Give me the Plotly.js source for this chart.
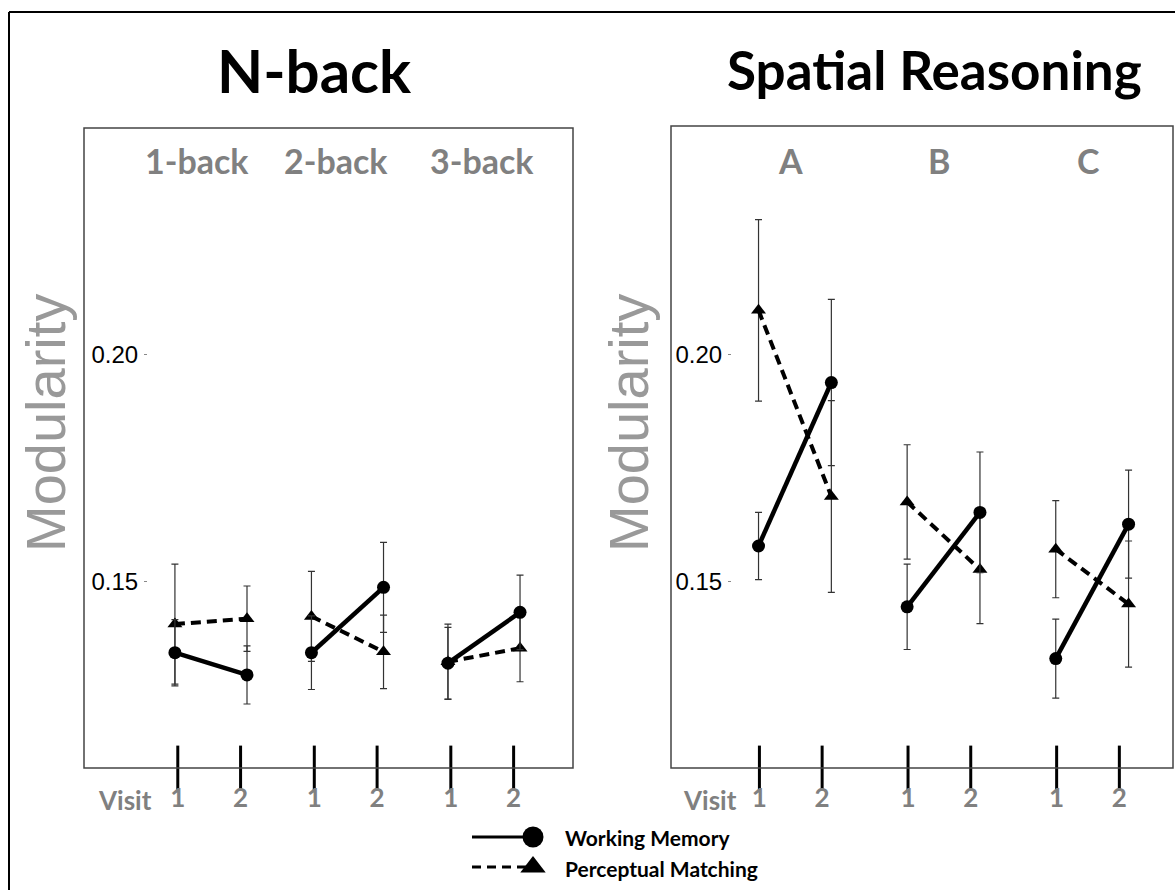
<!DOCTYPE html>
<html>
<head>
<meta charset="utf-8">
<script src="https://cdn.plot.ly/plotly-3.0.1.min.js"></script>
<style>
html,body{margin:0;padding:0;background:#fff;}
#chart{width:1175px;height:890px;}
</style>
</head>
<body>
<div id="chart"></div>
<script>
// ---------------- data ----------------
const visits = ['1', '2'];
const nbackConds = ['1-back', '2-back', '3-back'];
const spatialConds = ['A', 'B', 'C'];
// values ordered [cond1 visit1, cond1 visit2, cond2 visit1, ...]
const nbackWM    = [0.1344, 0.1295, 0.1344, 0.1488, 0.1321, 0.1433];
const nbackWMErr = [0.0073, 0.0064, 0.0081, 0.0099, 0.0079, 0.0082];
const nbackPM    = [0.1407, 0.1419, 0.1424, 0.1346, 0.1324, 0.1354];
const nbackPMErr = [0.0132, 0.0072, 0.0099, 0.0081, 0.0083, 0.0074];
const spatialWM    = [0.1579, 0.1939, 0.1445, 0.1653, 0.1331, 0.1627];
const spatialWMErr = [0.0074, 0.0183, 0.0094, 0.0133, 0.0087, 0.0119];
const spatialPM    = [0.2098, 0.1688, 0.1676, 0.1527, 0.1572, 0.1451];
const spatialPMErr = [0.0200, 0.0211, 0.0126, 0.0119, 0.0107, 0.0139];
const yTickVals = [0.15, 0.20];
const yTickText = ['0.15', '0.20'];
const seriesNames = ['Working Memory', 'Perceptual Matching'];
const panelTitles = ['N-back', 'Spatial Reasoning'];
const axisTitle = 'Modularity';
const visitLabel = 'Visit';

// ---------------- geometry / style ----------------
const W = 1175, H = 890;
const px = v => v / W, py = v => 1 - v / H;
const yRange = [0.109, 0.25];
const yRange2 = [0.109, 0.2504];
const panels = [
  {xa: 'x', ya: 'y', conds: nbackConds, wm: nbackWM, wmE: nbackWMErr, pm: nbackPM, pmE: nbackPMErr,
   ptOff: 0.264, tkOff: 0.23, tkShift: -0.013, labShift: [-12, -10, 0], yr: yRange},
  {xa: 'x2', ya: 'y2', conds: spatialConds, wm: spatialWM, wmE: spatialWMErr, pm: spatialPM, pmE: spatialPMErr,
   ptOff: 0.245, tkOff: 0.211, tkShift: -0.028, labShift: [0, 0, 0], yr: yRange2}
];

function seg(vals, errs, off) {
  const x = [], y = [], e = [];
  for (let g = 0; g < vals.length / 2; g++) {
    for (let v = 0; v < 2; v++) {
      x.push(g + (v === 0 ? -off : off));
      y.push(vals[g * 2 + v]);
      e.push(errs[g * 2 + v]);
    }
    x.push(null); y.push(null); e.push(null);
  }
  return {x, y, e};
}

const traces = [];
const annotations = [];
const gray = '#808080';
const boldFont = 'Lato, "Open Sans", sans-serif';

function ann(o) {
  return Object.assign({xref: 'paper', yref: 'paper', showarrow: false, xanchor: 'center', yanchor: 'middle'}, o);
}

panels.forEach((p, pi) => {
  const wm = seg(p.wm, p.wmE, p.ptOff);
  const pm = seg(p.pm, p.pmE, p.ptOff);
  traces.push({
    type: 'scatter', mode: 'lines+markers', xaxis: p.xa, yaxis: p.ya, name: seriesNames[1],
    x: pm.x, y: pm.y, connectgaps: false, showlegend: false, cliponaxis: false,
    line: {color: '#000', width: 4, dash: '10px,6px'},
    marker: {symbol: 'triangle-up', size: 13, color: '#000'},
    error_y: {type: 'data', array: pm.e, visible: true, color: '#333', thickness: 1.2, width: 3.5}
  });
  traces.push({
    type: 'scatter', mode: 'lines+markers', xaxis: p.xa, yaxis: p.ya, name: seriesNames[0],
    x: wm.x, y: wm.y, connectgaps: false, showlegend: false, cliponaxis: false,
    line: {color: '#000', width: 4.5},
    marker: {symbol: 'circle', size: 13, color: '#000'},
    error_y: {type: 'data', array: wm.e, visible: true, color: '#333', thickness: 1.2, width: 3.5}
  });
  // visit tick marks crossing the bottom axis
  const tx = [], ty = [];
  p.conds.forEach((c, g) => visits.forEach((v, vi) => {
    tx.push(g + p.tkShift + (vi === 0 ? -p.tkOff : p.tkOff));
    ty.push(p.yr[0]);
  }));
  traces.push({
    type: 'scatter', mode: 'markers', xaxis: p.xa, yaxis: p.ya, x: tx, y: ty,
    showlegend: false, cliponaxis: false, hoverinfo: 'skip',
    marker: {symbol: 'line-ns', size: 32, color: '#000', line: {color: '#000', width: 3}}
  });
  p.tickX = tx;
  // condition labels
  p.conds.forEach((c, g) => annotations.push(ann({
    xref: p.xa, x: g + p.tkShift, y: py(161), xshift: p.labShift[g],
    text: '<b>' + c + '</b>', font: {family: boldFont, size: 34, color: gray}
  })));
});

// legend samples (drawn on a small hidden axis)
const legRows = [0.84, 0.16];
traces.push({type: 'scatter', mode: 'lines', xaxis: 'x3', yaxis: 'y3', x: [0, 1], y: [legRows[0], legRows[0]],
  showlegend: false, cliponaxis: false, hoverinfo: 'skip', line: {color: '#000', width: 3}});
traces.push({type: 'scatter', mode: 'markers', xaxis: 'x3', yaxis: 'y3', x: [1], y: [legRows[0]],
  showlegend: false, cliponaxis: false, hoverinfo: 'skip', marker: {symbol: 'circle', size: 21, color: '#000'}});
traces.push({type: 'scatter', mode: 'lines', xaxis: 'x3', yaxis: 'y3', x: [0, 1], y: [legRows[1], legRows[1]],
  showlegend: false, cliponaxis: false, hoverinfo: 'skip', line: {color: '#000', width: 3, dash: '9px,6px'}});
traces.push({type: 'scatter', mode: 'markers', xaxis: 'x3', yaxis: 'y3', x: [1], y: [legRows[1]],
  showlegend: false, cliponaxis: false, hoverinfo: 'skip', marker: {symbol: 'triangle-up', size: 22, color: '#000'}});

// titles
annotations.push(ann({x: px(314), y: py(70), text: '<b>' + panelTitles[0] + '</b>',
  font: {family: boldFont, size: 60, color: '#000'}}));
annotations.push(ann({x: px(934), y: py(70), text: '<b>' + panelTitles[1] + '</b>',
  font: {family: boldFont, size: 53, color: '#000'}}));
// Modularity
[45, 628].forEach(cx => annotations.push(ann({x: px(cx), y: py(423), text: axisTitle, textangle: -90,
  font: {family: '"Liberation Sans", Arial, sans-serif', size: 56, color: '#999'}})));
// Visit
[125, 710].forEach(cx => annotations.push(ann({x: px(cx), y: py(800), text: '<b>' + visitLabel + '</b>',
  font: {family: boldFont, size: 26, color: gray}})));
// legend texts
annotations.push(ann({x: px(563), y: py(837), xanchor: 'left', text: '<b>' + seriesNames[0] + '</b>',
  font: {family: boldFont, size: 21, color: '#000'}}));
annotations.push(ann({x: px(563), y: py(868), xanchor: 'left', text: '<b>' + seriesNames[1] + '</b>',
  font: {family: boldFont, size: 21, color: '#000'}}));

function xAxis(domain, range, anchor, tickvals) {
  return {domain, range, anchor, showgrid: false, zeroline: false, showline: false, ticks: '',
    tickmode: 'array', tickvals, ticktext: tickvals.map((_, i) => '<b>' + visits[i % 2] + '</b>'),
    tickfont: {family: boldFont, size: 26, color: gray}, ticklabelstandoff: 12, fixedrange: true};
}
function yAxis(domain, range, pos) {
  return {domain, range, anchor: 'free', position: pos, showgrid: false, zeroline: false, showline: false,
    ticks: 'outside', ticklen: 3, tickwidth: 1, tickcolor: '#888',
    tickmode: 'array', tickvals: yTickVals, ticktext: yTickText,
    tickfont: {family: '"Liberation Sans", Arial, sans-serif', size: 24, color: '#000'}, ticklabelstandoff: 1};
}

const layout = {
  width: W, height: H, margin: {l: 0, r: 0, t: 0, b: 0},
  paper_bgcolor: '#fff', plot_bgcolor: 'rgba(0,0,0,0)', showlegend: false,
  xaxis: xAxis([px(84), px(573)], [-0.930, 2.652], 'y', panels[0].tickX),
  yaxis: yAxis([py(768), py(128)], yRange, px(147)),
  xaxis2: xAxis([px(671), px(1173)], [-0.834, 2.544], 'y2', panels[1].tickX),
  yaxis2: yAxis([py(768), py(126)], yRange2, px(731)),
  xaxis3: {domain: [px(472), px(533)], range: [0, 1], anchor: 'y3', visible: false},
  yaxis3: {domain: [py(874), py(830)], range: [0, 1], anchor: 'x3', visible: false},
  annotations,
  shapes: [
    {type: 'rect', xref: 'x domain', yref: 'y domain', x0: 0, x1: 1, y0: 0, y1: 1, line: {color: '#444', width: 1.5}},
    {type: 'rect', xref: 'x2 domain', yref: 'y2 domain', x0: 0, x1: 1, y0: 0, y1: 1, line: {color: '#444', width: 1.5}},
    {type: 'line', xref: 'paper', yref: 'paper', x0: px(9), x1: 1, y0: py(12), y1: py(12), line: {color: '#000', width: 2}},
    {type: 'line', xref: 'paper', yref: 'paper', x0: px(9), x1: px(9), y0: py(12), y1: 0, line: {color: '#000', width: 2}}
  ]
};

Plotly.newPlot('chart', traces, layout, {displayModeBar: false, staticPlot: true});
</script>
</body>
</html>
